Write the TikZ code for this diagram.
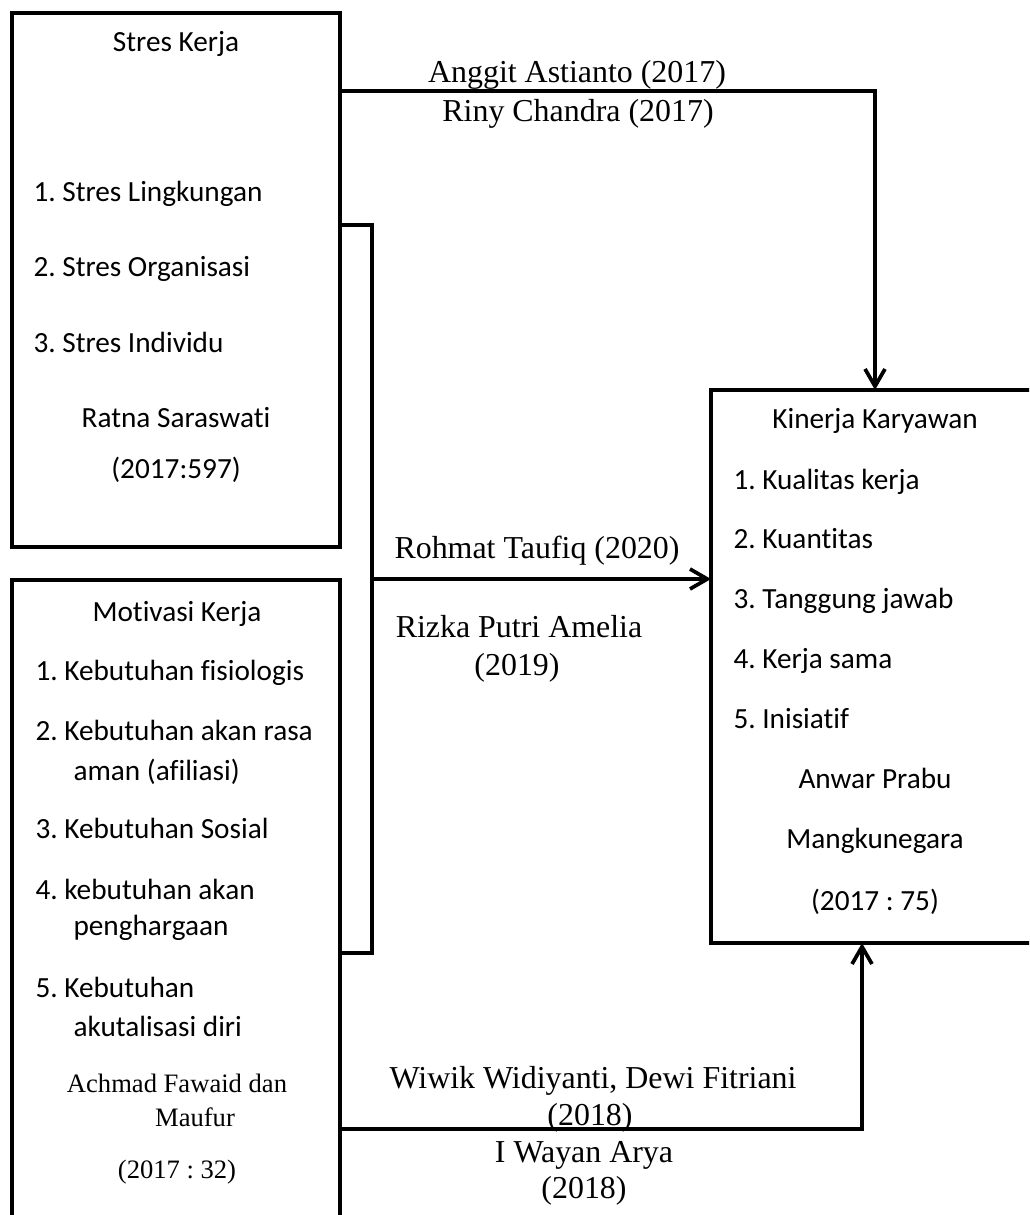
\documentclass[tikz,border=0pt]{standalone}
\usepackage{fontspec}
\setmainfont{Liberation Serif}
\newfontfamily\calfont[Ligatures=CommonOff]{Carlito}
\usetikzlibrary{arrows.meta,fit}
\frenchspacing
\begin{document}
\begin{tikzpicture}[x=0.376pt,y=-0.376pt,
  box/.style={draw,line width=1.4pt,inner sep=0pt,outer sep=0pt},
  conn/.style={draw,line width=1.4pt,line cap=rect},
  arr/.style={conn,-{Straight Barb[length=6.5pt,width=7.5pt]}},
  sans/.style={inner sep=0pt,font=\calfont\fontsize{11}{13}\selectfont},
  itm/.style={sans,anchor=base west},
  ctr/.style={sans,anchor=base},
  lbl/.style={inner sep=0pt,anchor=base,font=\fontsize{12}{14}\selectfont},
  src/.style={inner sep=0pt,anchor=base,font=\fontsize{10}{12}\selectfont}]
\useasboundingbox (0,0) rectangle (1029,1215);
\clip (0,0) rectangle (1029,1215);

% boxes
\node[box,fit={(12,13) (340,547)}] (stres) {};
\node[box,fit={(12,580) (340,1225)}] (motiv) {};
\node[box,fit={(711,390) (1040,943)}] (kinerja) {};

% Stres Kerja texts
\node[ctr] (s0) at (176,52) {Stres Kerja};
\node[itm] (s1) at (33,202) {1. Stres Lingkungan};
\node[itm] (s2) at (33,277) {2. Stres Organisasi};
\node[itm] (s3) at (33,352) {3. Stres Individu};
\node[ctr] (s4) at (176,427) {Ratna Saraswati};
\node[ctr] (s5) at (176,478) {(2017:597)};

% Motivasi Kerja texts
\node[ctr] (m0) at (177,621) {Motivasi Kerja};
\node[itm] (m1) at (35,680) {1. Kebutuhan fisiologis};
\node[itm] (m2) at (35,740) {2. Kebutuhan akan rasa};
\node[itm] (m2b) at (73,780) {aman (afiliasi)};
\node[itm] (m3) at (35,838) {3. Kebutuhan Sosial};
\node[itm] (m4) at (35,899) {4. kebutuhan akan};
\node[itm] (m4b) at (73,935) {penghargaan};
\node[itm] (m5) at (35,997) {5. Kebutuhan};
\node[itm] (m5b) at (73,1036) {akutalisasi diri};
\node[src] (m6) at (177,1092) {Achmad Fawaid dan};
\node[src] (m7) at (195,1126) {Maufur};
\node[src] (m8) at (177,1178) {(2017 : 32)};

% Kinerja Karyawan texts
\node[ctr] (k0) at (875,428) {Kinerja Karyawan};
\node[itm] (k1) at (733,489) {1. Kualitas kerja};
\node[itm] (k2) at (733,548) {2. Kuantitas};
\node[itm] (k3) at (733,608) {3. Tanggung jawab};
\node[itm] (k4) at (733,668) {4. Kerja sama};
\node[itm] (k5) at (733,728) {5. Inisiatif};
\node[ctr] (k6) at (875,788) {Anwar Prabu};
\node[ctr] (k7) at (875,848) {Mangkunegara};
\node[ctr] (k8) at (875,910) {(2017 : 75)};

% connector points
\coordinate (c1) at (875,91);
\coordinate (b1) at (372,225);
\coordinate (b2) at (372,953);
\coordinate (b3) at (372,579);
\coordinate (d1) at (862,1129);

% connectors
\draw[arr] (stres.east |- c1) -- (c1) -- (kinerja.north -| c1);
\draw[conn] (stres.east |- b1) -- (b1) -- (b2) -- (motiv.east |- b2);
\draw[arr] (b3) -- (kinerja.west |- b3);
\draw[arr] (motiv.east |- d1) -- (d1) -- (kinerja.south -| d1);

% connector labels
\node[lbl] (l1) at (577,83) {Anggit Astianto (2017)};
\node[lbl] (l2) at (578,122) {Riny Chandra (2017)};
\node[lbl] (l3) at (537,558) {Rohmat Taufiq (2020)};
\node[lbl] (l4) at (519,637) {Rizka Putri Amelia};
\node[lbl] (l5) at (517,675) {(2019)};
\node[lbl] (l6) at (593,1088) {Wiwik Widiyanti, Dewi Fitriani};
\node[lbl] (l7) at (590,1125) {(2018)};
\node[lbl] (l8) at (584,1162) {I Wayan Arya};
\node[lbl] (l9) at (584,1198) {(2018)};
\end{tikzpicture}
\end{document}
